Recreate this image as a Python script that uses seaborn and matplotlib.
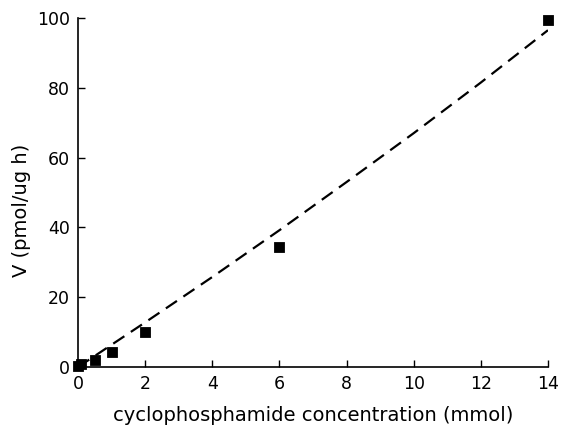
import matplotlib
matplotlib.use("Agg")
import matplotlib.pyplot as plt
import seaborn as sns
import pandas as pd

conc = [0.0, 0.1, 0.5, 1.0, 2.0, 6.0, 14.0]
velocity = [0.3, 0.8, 2.0, 4.4, 10.1, 34.3, 99.3]

fit_x = [0, 2, 4, 6, 8, 10, 12, 14]
fit_y = [0, 12.8, 25.8, 39.2, 53.0, 67.0, 81.5, 96.5]

x_ticks = [0, 2, 4, 6, 8, 10, 12, 14]
y_ticks = [0, 20, 40, 60, 80, 100]

sns.set_theme(style="ticks")
plt.rcParams['font.family'] = ['DejaVu Sans']
plt.rcParams['axes.labelcolor'] = 'black'

fig = plt.figure(figsize=(5.62, 4.28), dpi=100)
ax = fig.add_axes([0.139, 0.1425, 0.836, 0.8155])

pts = pd.DataFrame({"x": conc, "y": velocity})
fit = pd.DataFrame({"x": fit_x, "y": fit_y})

sns.lineplot(data=fit, x="x", y="y", ax=ax, color="black", lw=1.6,
             linestyle=(0, (6, 3.5)))
sns.scatterplot(data=pts, x="x", y="y", ax=ax, marker="s", s=55,
                color="black", edgecolor="black", zorder=5, clip_on=False)

ax.set_xlim(0, 14)
ax.set_ylim(0, 100)
ax.set_xticks(x_ticks)
ax.set_yticks(y_ticks)
ax.tick_params(direction="in", length=5, width=1, labelsize=12.5, colors="black", pad=6)
for s in ["top", "right"]:
    ax.spines[s].set_visible(False)
for s in ["left", "bottom"]:
    ax.spines[s].set_linewidth(1.2)
    ax.spines[s].set_color("black")

ax.set_xlabel("cyclophosphamide concentration (mmol)", fontsize=14, labelpad=9, color="black")
ax.set_ylabel("V (pmol/ug h)", fontsize=14, labelpad=12, color="black")
ax.yaxis.set_label_coords(-0.1, 0.45)

fig.savefig("out.png", dpi=100)
